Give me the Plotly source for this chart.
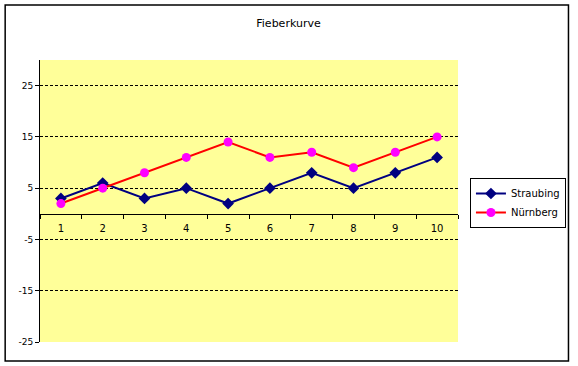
import plotly.graph_objects as go

days = ["1", "2", "3", "4", "5", "6", "7", "8", "9", "10"]
straubing = [3, 6, 3, 5, 2, 5, 8, 5, 8, 11]
nuernberg = [2, 5, 8, 11, 14, 11, 12, 9, 12, 15]
y_ticks = [-25, -15, -5, 5, 15, 25]
y_tick_text = ["-25", "-15", "-5", "5", "15", "25"]
grid_vals = [-15, -5, 5, 15, 25]

FONT = "DejaVu Sans"

fig = go.Figure()
fig.add_trace(go.Scatter(
    x=days, y=straubing, name="Straubing", mode="lines+markers",
    line=dict(color="#000080", width=2),
    marker=dict(symbol="diamond", size=9, color="#000080"),
))
fig.add_trace(go.Scatter(
    x=days, y=nuernberg, name="Nürnberg", mode="lines+markers",
    line=dict(color="#FF0000", width=2),
    marker=dict(symbol="circle", size=9, color="#FF00FF"),
))

W, H = 578, 366
L, R, T, B = 40, 460, 60, 342
pw, ph = R - L, B - T

def px(x):
    return (x - L) / pw

def py(y):
    return (B - y) / ph

fig.update_layout(
    width=W, height=H,
    margin=dict(l=L, r=W - R, t=T, b=H - B, pad=0),
    paper_bgcolor="white",
    plot_bgcolor="#FFFF99",
    font=dict(family=FONT, size=9, color="black"),
    title=dict(text="Fieberkurve", x=288.5 / W, xanchor="center", xref="container",
               y=1 - 23 / H, yanchor="middle", yref="container",
               font=dict(family=FONT, size=11, color="black")),
    showlegend=True,
    legend=dict(x=px(472), xanchor="left", y=py(178), yanchor="top",
                bgcolor="white", bordercolor="black", borderwidth=1,
                font=dict(family=FONT, size=10, color="black"),
                itemwidth=30, tracegroupgap=2),
    xaxis=dict(
        type="category", range=[-0.5, 9.5],
        anchor="free", position=(0 - (-25)) / 55,
        showline=True, linecolor="black", linewidth=1,
        ticks="outside", tickson="boundaries", ticklen=4, tickcolor="black",
        ticklabelstandoff=5,
        showgrid=False, zeroline=False,
        tickfont=dict(family=FONT, size=10),
    ),
    yaxis=dict(
        range=[-25, 30], tickvals=y_ticks, ticktext=y_tick_text,
        showline=True, linecolor="black", linewidth=1,
        ticks="outside", ticklen=4, tickcolor="black",
        showgrid=False, zeroline=False,
        minor=dict(tickvals=grid_vals, showgrid=True, gridcolor="black",
                   griddash="3px,2px", gridwidth=1, ticks=""),
        tickfont=dict(family=FONT, size=9),
    ),
    shapes=[dict(type="rect", xref="paper", yref="paper",
                 x0=px(5), x1=px(571), y0=py(361), y1=py(5),
                 line=dict(color="black", width=1.5), layer="below")],
)

fig.write_html("out.html", config={"displayModeBar": False},
               post_script="document.body.style.margin='0';document.body.style.overflow='hidden';")
